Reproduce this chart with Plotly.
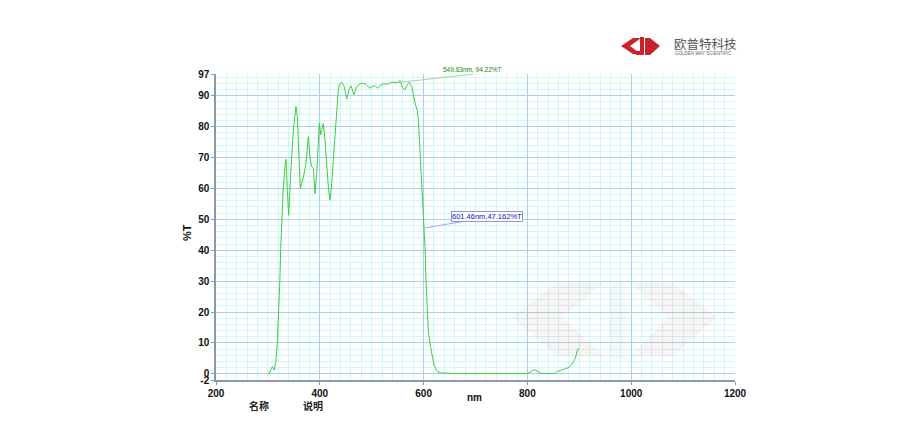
import plotly.graph_objects as go

# ---------------- data ----------------
wavelength_nm = [300, 302.7, 306, 309, 312, 315, 318, 321.4, 323, 324.6, 326.5, 329.4, 333, 335, 337.4,
                 340, 344, 349, 352, 354, 356.7, 358.6, 360.5, 362.5, 365, 368, 373.4, 378, 381, 384.3,
                 387.5, 390.8, 394, 397, 399, 401.7, 404, 406.8, 410, 413, 416.4, 419.7, 423, 427.4,
                 432.6, 435.7, 438, 442, 447, 451.8, 457, 460, 466, 471, 477.5, 484, 490, 496.7, 502,
                 506, 511, 516, 522, 532, 538.5, 549.63, 554.5, 559.7, 564, 568.6, 572.5, 577, 583, 588,
                 590, 593, 596.4, 599.5, 601.46, 603, 604.6, 607, 609, 613.5, 617, 620, 625, 631.6, 660,
                 700, 750, 800, 806, 810, 814.6, 820, 827.5, 840, 853, 858, 863, 866, 869, 872, 876, 880,
                 883, 885, 888, 890, 893, 896, 899]
transmittance = [0, 0, 1.5, 2.4, 1.2, 3.5, 9.6, 20.5, 30, 40, 50.7, 59.4, 67, 69.4, 59.4,
                 51.3, 64.8, 78.9, 83.2, 86.5, 83.2, 75.6, 67, 60, 61.6, 63.2, 68, 76.7, 70.2, 67,
                 66.5, 58.3, 64.8, 76.7, 81, 77.3, 79, 81, 75.6, 67, 60.5, 56.2, 61.6, 72.4,
                 85.4, 92, 93.8, 94.3, 93, 88.9, 92.4, 93.2, 90.3, 93, 93.8, 94, 93.5, 92.4, 93,
                 93.3, 92.4, 93.2, 93.8, 93.8, 94.3, 94.22, 94.9, 92.4, 91.9, 93.5, 94.3, 93, 88, 85,
                 82, 72, 61, 51, 47.162, 40, 30, 20, 14, 8.5, 5, 3, 1, 0.3, 0.1,
                 0.1, 0.1, 0.1, 0.6, 1.1, 1.3, 0.9, 0.1, 0.1, 0.1, 0.8, 1.0, 1.4, 1.3, 1.6, 1.8, 2.0,
                 2.6, 3.1, 3.8, 4.2, 5.5, 7.5, 8.3]

marker_nm = [549.63, 601.46]
marker_T = [94.22, 47.162]
marker_text = ["549.63nm, 94.22%T", "601.46nm,47.162%T"]

x_ticks = [200, 400, 600, 800, 1000, 1200]
y_ticks = [-2, 0, 10, 20, 30, 40, 50, 60, 70, 80, 90, 97]

# ---------------- layout helpers ----------------
OFF = 8  # page body margin
W, H = 924, 440
L, R, T, B = 216 - OFF, 735 - OFF, 74 - OFF, 380 - OFF


def px(x, y):
    # x, y are screen pixel positions
    return (x - OFF - L) / (R - L), (B - (y - OFF)) / (B - T)


def path(pts):
    s = ""
    for i, (x, y) in enumerate(pts):
        a, b = px(x, y)
        s += ("M" if i == 0 else "L") + f"{a:.5f},{b:.5f} "
    return s + "Z"


fig = go.Figure()
fig.add_trace(go.Scatter(x=wavelength_nm, y=transmittance, mode="lines",
                         line=dict(color="#3fcc3f", width=1), showlegend=False,
                         hoverinfo="skip"))

shapes = []
# big faint watermark
wm_col = "rgba(215,90,90,0.07)"
wm_gray = "rgba(150,150,150,0.07)"
shapes.append(dict(type="path", xref="paper", yref="paper", line_width=0, fillcolor=wm_col,
                   path=path([(512, 317), (556, 283), (604, 283), (562, 317), (604, 356), (556, 356)])))
shapes.append(dict(type="path", xref="paper", yref="paper", line_width=0, fillcolor=wm_gray,
                   path=path([(610, 283), (625, 283), (625, 358), (610, 358)])))
shapes.append(dict(type="path", xref="paper", yref="paper", line_width=0, fillcolor=wm_col,
                   path=path([(717, 317), (673, 283), (631, 283), (668, 317), (631, 356), (673, 356)])))

# small logo (top right)
red = "#c8232c"
shapes.append(dict(type="path", xref="paper", yref="paper", line_width=0, fillcolor=red,
                   path=path([(621, 46), (633, 38), (641, 38), (630, 46), (641, 54), (633, 54)])))
shapes.append(dict(type="path", xref="paper", yref="paper", line_width=0, fillcolor=red,
                   path=path([(640, 37), (644, 37), (644, 55), (636, 55), (636, 51), (640, 51)])))
shapes.append(dict(type="path", xref="paper", yref="paper", line_width=0, fillcolor=red,
                   path=path([(660, 46), (650, 38), (645, 38), (645, 55), (650, 55)])))

# leader lines of the markers
shapes.append(dict(type="line", xref="x", yref="y", xsizemode="pixel", ysizemode="pixel",
                   xanchor=marker_nm[0], yanchor=marker_T[0], x0=0, y0=0, x1=76, y1=8.5,
                   line=dict(color="#a8d0a8", width=1)))
shapes.append(dict(type="line", xref="x", yref="y", xsizemode="pixel", ysizemode="pixel",
                   xanchor=marker_nm[1], yanchor=marker_T[1], x0=0, y0=0, x1=56, y1=9.5,
                   line=dict(color="#98a8ee", width=1)))

annotations = [
    dict(x=marker_nm[0], y=marker_T[0], xref="x", yref="y", text=marker_text[0], showarrow=False,
         xshift=75, yshift=13, font=dict(family="Arial", size=6.5, color="#118811")),
    dict(x=marker_nm[1], y=marker_T[1], xref="x", yref="y", text=marker_text[1], showarrow=False,
         xshift=63, yshift=11.5, font=dict(family="Arial", size=7.5, color="#1010cc"),
         bordercolor="#8899dd", borderwidth=1, borderpad=0, bgcolor="white"),
]


def add_text(x, y, text, size, color="#111", bold=True, angle=0, xanchor="center"):
    a, b = px(x, y)
    annotations.append(dict(x=a, y=b, xref="paper", yref="paper", showarrow=False,
                            text=f"<b>{text}</b>" if bold else text, textangle=angle,
                            xanchor=xanchor, yanchor="middle",
                            font=dict(family="Arial, Noto Sans CJK SC", size=size, color=color)))


add_text(187, 233, "%T", 11, angle=-90)
add_text(474, 397, "nm", 10)
add_text(259, 406, "名称", 10, color="#222")
add_text(313, 406, "说明", 10, color="#222")
add_text(672, 45, "欧普特科技", 12.5, color="#555", bold=False, xanchor="left")
add_text(673, 53.5, "GOLDEN WAY SCIENTIFIC", 4.5, color="#666", bold=False, xanchor="left")

fig.update_layout(
    width=W, height=H, paper_bgcolor="white", plot_bgcolor="white",
    margin=dict(l=L, r=W - R, t=T, b=H - B, pad=0),
    shapes=shapes, annotations=annotations, showlegend=False,
    font=dict(family="Arial", size=10, color="#111"),
)
fig.update_xaxes(range=[200, 1200], tickmode="array", tickvals=x_ticks,
                 ticktext=[f"<b>{v}</b>" for v in x_ticks],
                 showgrid=True, gridcolor="#a6d2f2", gridwidth=1,
                 minor=dict(tick0=200, dtick=20, showgrid=True, gridcolor="#cdf7f9", gridwidth=1),
                 showline=True, linecolor="#8a98a8", linewidth=1.5, zeroline=False,
                 ticks="outside", ticklen=3, tickcolor="#8a98a8",
                 tickfont=dict(family="Arial", size=10, color="#111"))
fig.update_yaxes(range=[-2, 97], tickmode="array", tickvals=y_ticks,
                 ticktext=[f"<b>{v}</b>" for v in y_ticks],
                 showgrid=True, gridcolor="#a6d2f2", gridwidth=1,
                 minor=dict(tick0=0, dtick=2, showgrid=True, gridcolor="#cdf7f9", gridwidth=1),
                 showline=True, linecolor="#8a98a8", linewidth=1.5, zeroline=False,
                 ticks="outside", ticklen=3, tickcolor="#8a98a8",
                 tickfont=dict(family="Arial", size=10, color="#111"))

fig.write_html("out.html")
